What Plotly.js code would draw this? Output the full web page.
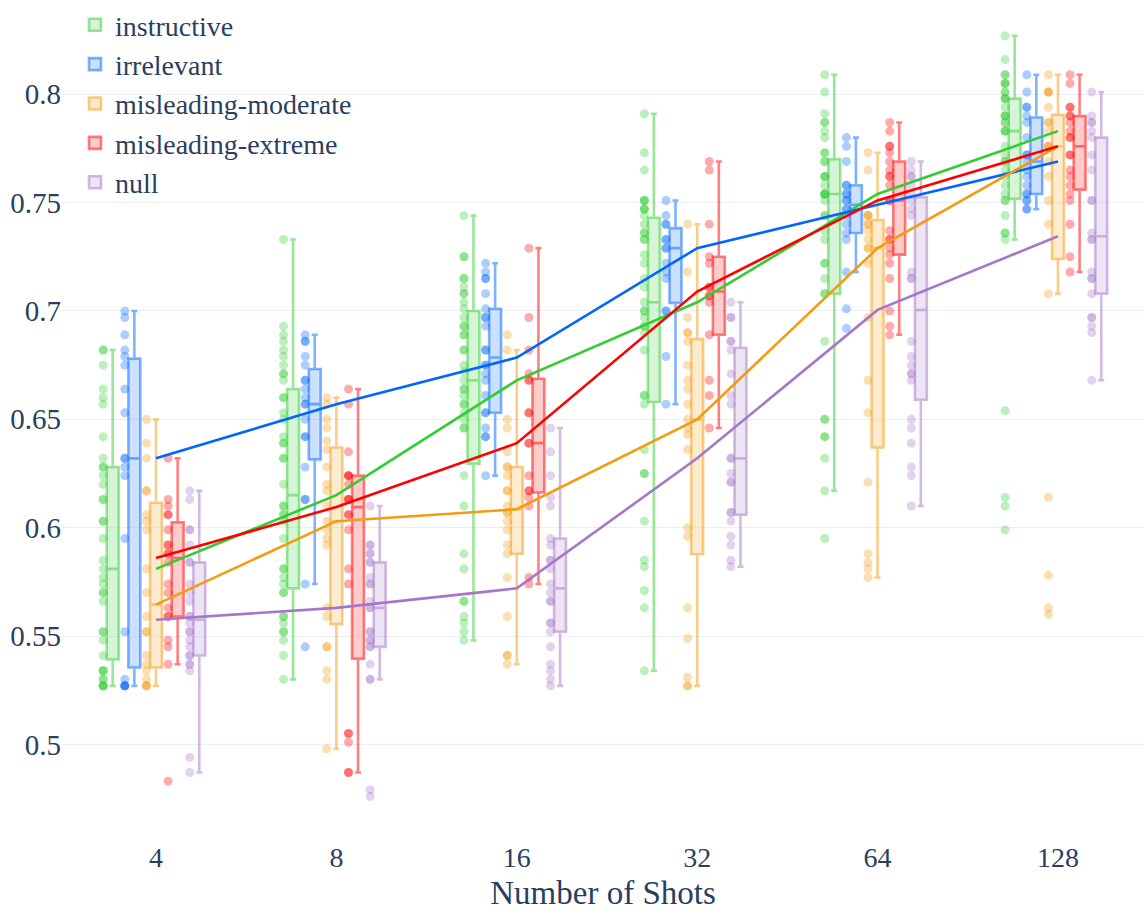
<!DOCTYPE html>
<html>
<head>
<meta charset="utf-8">
<script src="https://cdn.plot.ly/plotly-3.0.1.min.js"></script>
<style>html,body{margin:0;padding:0;background:#fff;overflow:hidden}</style>
</head>
<body>
<div id="chart" style="width:1144px;height:911px"></div>
<script>
// categories (number of shots)
const shots = ['4', '8', '16', '32', '64', '128'];

// per-shot accuracy samples for each prompt type
const instructive = [
  [0.682,0.682,0.675,0.664,0.660,0.657,0.642,0.632,0.628,0.628,0.624,0.620,0.613,0.613,0.603,0.603,0.595,0.585,0.581,0.577,0.574,0.570,0.570,0.566,0.552,0.552,0.548,0.541,0.534,0.534,0.534,0.530,0.530,0.527,0.527,0.527,0.527],
  [0.733,0.693,0.689,0.686,0.682,0.679,0.675,0.671,0.671,0.668,0.660,0.660,0.653,0.650,0.642,0.639,0.639,0.632,0.632,0.620,0.610,0.610,0.606,0.606,0.603,0.595,0.581,0.581,0.577,0.574,0.570,0.570,0.559,0.559,0.556,0.552,0.552,0.548,0.541,0.530],
  [0.744,0.725,0.725,0.715,0.715,0.711,0.708,0.708,0.704,0.701,0.697,0.693,0.693,0.689,0.689,0.682,0.682,0.675,0.672,0.668,0.664,0.664,0.661,0.657,0.657,0.653,0.650,0.646,0.646,0.624,0.610,0.588,0.581,0.566,0.566,0.559,0.556,0.552,0.548],
  [0.791,0.773,0.765,0.751,0.751,0.751,0.747,0.747,0.747,0.744,0.740,0.736,0.736,0.733,0.733,0.726,0.722,0.715,0.711,0.704,0.700,0.700,0.697,0.693,0.693,0.690,0.682,0.661,0.661,0.657,0.636,0.625,0.625,0.603,0.585,0.582,0.571,0.563,0.534],
  [0.809,0.801,0.791,0.787,0.787,0.783,0.780,0.773,0.773,0.769,0.769,0.762,0.762,0.762,0.758,0.754,0.754,0.754,0.754,0.751,0.744,0.744,0.737,0.733,0.722,0.722,0.715,0.708,0.708,0.686,0.650,0.650,0.642,0.642,0.632,0.617,0.595],
  [0.827,0.816,0.809,0.809,0.805,0.805,0.805,0.801,0.801,0.798,0.798,0.798,0.794,0.790,0.790,0.790,0.787,0.787,0.783,0.783,0.783,0.776,0.772,0.769,0.769,0.765,0.762,0.758,0.754,0.751,0.751,0.744,0.736,0.736,0.733,0.654,0.614,0.610,0.599]
];
const irrelevant = [
  [0.700,0.697,0.689,0.682,0.679,0.675,0.664,0.653,0.632,0.632,0.628,0.624,0.595,0.552,0.530,0.527,0.527,0.527,0.527],
  [0.689,0.686,0.686,0.679,0.675,0.668,0.668,0.664,0.660,0.657,0.657,0.650,0.642,0.642,0.628,0.613,0.613,0.574,0.545],
  [0.722,0.718,0.715,0.715,0.708,0.701,0.697,0.697,0.693,0.682,0.682,0.675,0.675,0.671,0.668,0.661,0.653,0.653,0.646,0.642,0.642,0.624],
  [0.751,0.744,0.740,0.740,0.733,0.733,0.729,0.729,0.722,0.718,0.715,0.700,0.700,0.679,0.657],
  [0.780,0.776,0.769,0.758,0.758,0.754,0.754,0.751,0.751,0.747,0.747,0.744,0.740,0.736,0.733,0.718,0.701,0.692],
  [0.809,0.801,0.794,0.794,0.790,0.787,0.780,0.772,0.772,0.769,0.765,0.762,0.758,0.754,0.754,0.751,0.751,0.747,0.747]
];
const misleadingModerate = [
  [0.650,0.639,0.632,0.617,0.617,0.606,0.603,0.599,0.581,0.570,0.559,0.552,0.552,0.541,0.537,0.534,0.530,0.527,0.527,0.527],
  [0.660,0.657,0.650,0.646,0.640,0.636,0.628,0.620,0.617,0.610,0.603,0.599,0.595,0.592,0.563,0.559,0.545,0.545,0.534,0.530,0.498],
  [0.689,0.682,0.650,0.646,0.635,0.628,0.628,0.624,0.617,0.617,0.610,0.607,0.607,0.603,0.599,0.592,0.588,0.577,0.559,0.541,0.541,0.537],
  [0.740,0.718,0.697,0.690,0.690,0.686,0.675,0.668,0.664,0.657,0.650,0.646,0.643,0.636,0.600,0.596,0.563,0.549,0.531,0.527,0.527],
  [0.773,0.765,0.744,0.744,0.744,0.740,0.740,0.737,0.733,0.729,0.729,0.722,0.697,0.668,0.653,0.621,0.588,0.584,0.581,0.577],
  [0.809,0.801,0.801,0.801,0.794,0.787,0.787,0.783,0.776,0.776,0.776,0.769,0.762,0.751,0.740,0.708,0.614,0.578,0.563,0.560]
];
const misleadingExtreme = [
  [0.632,0.613,0.610,0.606,0.606,0.599,0.592,0.592,0.588,0.588,0.584,0.574,0.570,0.563,0.559,0.559,0.548,0.545,0.537,0.483],
  [0.664,0.657,0.635,0.624,0.624,0.624,0.620,0.613,0.613,0.613,0.606,0.606,0.599,0.581,0.574,0.505,0.505,0.501,0.487,0.487],
  [0.729,0.697,0.682,0.671,0.668,0.668,0.653,0.653,0.639,0.639,0.624,0.617,0.617,0.614,0.610,0.577,0.574],
  [0.769,0.765,0.740,0.725,0.722,0.711,0.711,0.707,0.707,0.704,0.689,0.668,0.661,0.646],
  [0.787,0.783,0.776,0.776,0.773,0.769,0.765,0.762,0.762,0.758,0.751,0.751,0.737,0.733,0.733,0.729,0.726,0.722,0.715,0.700,0.693,0.689],
  [0.809,0.805,0.794,0.794,0.790,0.790,0.787,0.783,0.780,0.780,0.772,0.772,0.765,0.762,0.758,0.754,0.751,0.740,0.725,0.718]
];
const nullPrompt = [
  [0.617,0.613,0.599,0.599,0.592,0.584,0.584,0.574,0.570,0.566,0.559,0.559,0.556,0.552,0.552,0.548,0.545,0.541,0.541,0.537,0.537,0.534,0.494,0.487],
  [0.610,0.592,0.592,0.588,0.588,0.584,0.584,0.577,0.574,0.574,0.566,0.563,0.563,0.552,0.552,0.548,0.548,0.545,0.545,0.537,0.530,0.530,0.479,0.476],
  [0.646,0.635,0.624,0.614,0.610,0.595,0.592,0.585,0.585,0.581,0.574,0.570,0.566,0.566,0.556,0.556,0.552,0.545,0.537,0.534,0.530,0.527],
  [0.704,0.697,0.697,0.686,0.686,0.682,0.671,0.661,0.657,0.632,0.632,0.625,0.621,0.621,0.607,0.607,0.603,0.596,0.592,0.585,0.582],
  [0.769,0.765,0.762,0.762,0.758,0.754,0.751,0.747,0.744,0.718,0.715,0.715,0.686,0.679,0.675,0.671,0.671,0.668,0.650,0.646,0.639,0.628,0.624,0.610],
  [0.801,0.790,0.787,0.787,0.783,0.780,0.772,0.765,0.751,0.751,0.736,0.733,0.733,0.718,0.715,0.715,0.708,0.697,0.697,0.693,0.690,0.668]
];

const seriesNames = ['instructive', 'irrelevant', 'misleading-moderate', 'misleading-extreme', 'null'];
const seriesData = [instructive, irrelevant, misleadingModerate, misleadingExtreme, nullPrompt];
const seriesRGB = ['50,205,50', '0,102,255', '243,156,18', '255,0,0', '166,118,200'];

function median(arr) {
  const s = arr.slice().sort((a, b) => a - b);
  const n = s.length;
  return n % 2 ? s[(n - 1) / 2] : (s[n / 2 - 1] + s[n / 2]) / 2;
}

const traces = [];
seriesNames.forEach((name, i) => {
  const xs = [], ys = [];
  seriesData[i].forEach((vals, k) => {
    vals.forEach(v => { xs.push(shots[k]); ys.push(v); });
  });
  const rgb = seriesRGB[i];
  traces.push({
    type: 'box', name: name, x: xs, y: ys, legendgroup: name,
    boxpoints: 'all', jitter: 0, pointpos: -1.6, whiskerwidth: 0.5,
    marker: { color: 'rgb(' + rgb + ')', size: 9, opacity: 0.33 },
    line: { color: 'rgba(' + rgb + ',0.5)', width: 2.6 },
    fillcolor: 'rgba(' + rgb + ',0.2)',
    hoverinfo: 'y'
  });
});
seriesNames.forEach((name, i) => {
  traces.push({
    type: 'scatter', mode: 'lines', name: name + ' median', x: shots,
    y: seriesData[i].map(median), legendgroup: name, showlegend: false,
    line: { color: 'rgb(' + seriesRGB[i] + ')', width: 2.6 },
    hoverinfo: 'skip'
  });
});

const layout = {
  width: 1144, height: 911,
  margin: { l: 62, r: 0, t: 0, b: 73 },
  paper_bgcolor: '#ffffff', plot_bgcolor: '#ffffff',
  font: { family: 'Liberation Serif, Times New Roman, serif', color: '#2a3f5f', size: 28 },
  boxmode: 'group', boxgap: 0.4, boxgroupgap: 0.45,
  xaxis: {
    type: 'category', categoryorder: 'array', categoryarray: shots,
    range: [-0.521, 5.477], showgrid: false, zeroline: false, showline: false, ticks: '',
    tickfont: { size: 28 },
    title: { text: 'Number of Shots', font: { size: 33 }, standoff: 8 }
  },
  yaxis: {
    range: [0.4568, 0.8435], dtick: 0.05, tick0: 0.5, showgrid: true, gridcolor: '#EBF0F8', gridwidth: 1,
    zeroline: false, showline: false, ticks: '', tickfont: { size: 29 }
  },
  legend: { x: 0.012, y: 1.0, xanchor: 'left', yanchor: 'top', bgcolor: 'rgba(0,0,0,0)', font: { size: 28 }, tracegroupgap: 0 },
  showlegend: true
};

Plotly.newPlot('chart', traces, layout, { displayModeBar: false, staticPlot: true });
</script>
</body>
</html>
